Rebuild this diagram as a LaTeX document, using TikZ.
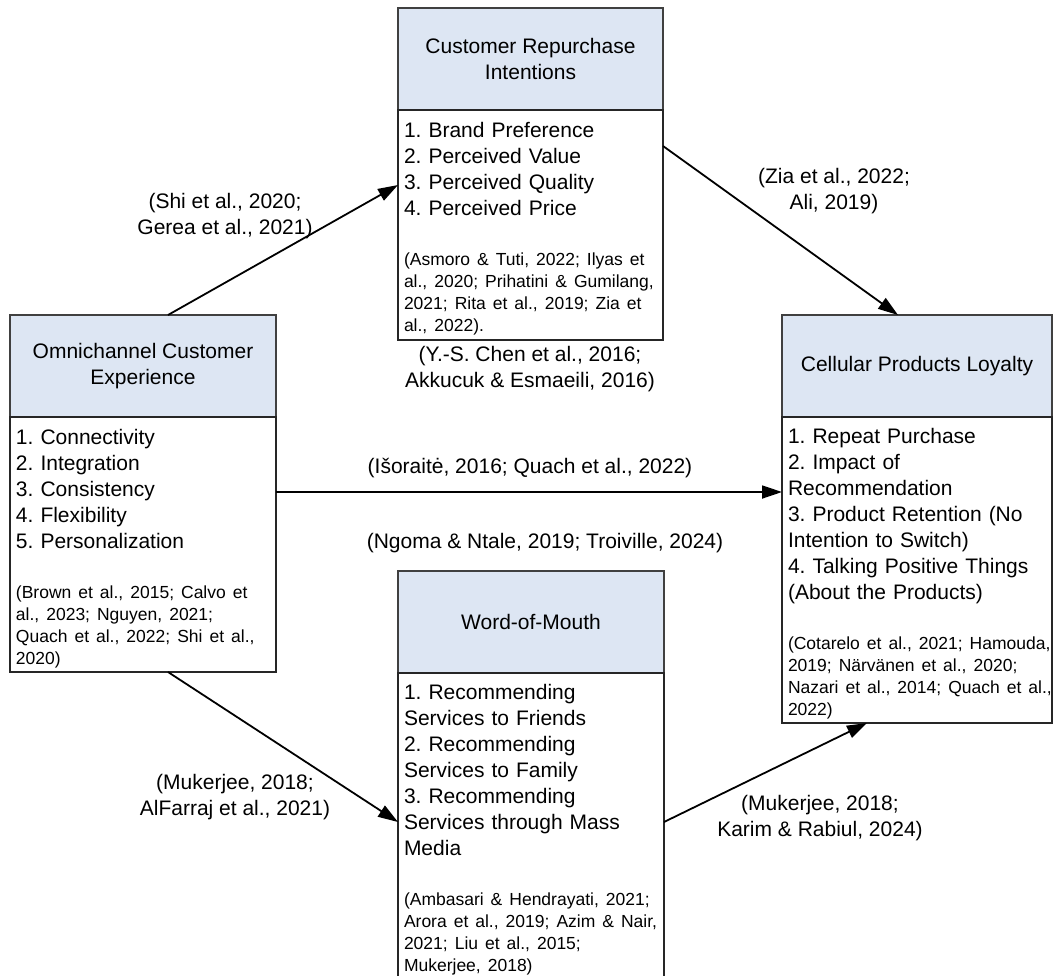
\documentclass[tikz,border=0pt]{standalone}
\usepackage{fontspec}
\setmainfont{Liberation Sans}
\usetikzlibrary{positioning,arrows.meta}
\definecolor{headblue}{RGB}{221,230,243}
\newcommand{\reflist}[1]{\par\vspace{28pt}\noindent{\fontsize{17.5}{22}\selectfont\begin{tabular}[t]{@{}l@{}}#1\end{tabular}\par}}
\frenchspacing

\begin{document}
\begin{tikzpicture}[x=1pt,y=-1pt,
	head/.style={draw=black!75,line width=1.2pt,fill=headblue,anchor=north west,outer sep=0pt,inner sep=0pt,minimum height=102pt,align=center,font=\fontsize{21}{26}\selectfont},
	body/.style={draw=black!85,line width=1.2pt,outer sep=0pt,inner xsep=6pt,inner ysep=0pt,align=left,font=\fontsize{21}{26}\selectfont\frenchspacing,execute at begin node=\rule{0pt}{26pt}},
	link/.style={line width=1.8pt,-{Triangle[length=20pt,width=13pt]}},
	cite/.style={align=center,inner sep=0pt,font=\fontsize{21}{26}\selectfont\frenchspacing}]
		\useasboundingbox (0,0) rectangle (1054,975);
		% the four boxes
		\node[head,minimum width=265pt] (reph) at (398,8) {Customer Repurchase\\Intentions};
		\node[body,text width=253pt,minimum height=230pt,below=0pt of reph] (repb) {1. Brand Preference\\2. Perceived Value\\3. Perceived Quality\\4. Perceived Price\reflist{(Asmoro \& Tuti, 2022; Ilyas et\\al., 2020; Prihatini \& Gumilang,\\2021; Rita et al., 2019; Zia et\\al., 2022).}};
		\node[head,minimum width=266pt] (omnih) at (10,315) {Omnichannel Customer\\Experience};
		\node[body,text width=254pt,minimum height=255pt,below=0pt of omnih] (omnib) {1. Connectivity\\2. Integration\\3. Consistency\\4. Flexibility\\5. Personalization\reflist{(Brown et al., 2015; Calvo et\\al., 2023; Nguyen, 2021;\\Quach et al., 2022; Shi et al.,\\2020)}};
		\node[head,minimum width=270pt] (loyh) at (782,315) {Cellular Products Loyalty};
		\node[body,text width=258pt,minimum height=306pt,below=0pt of loyh] (loyb) {1. Repeat Purchase\\2. Impact of\\Recommendation\\3. Product Retention (No\\Intention to Switch)\\4. Talking Positive Things\\(About the Products)\reflist{(Cotarelo et al., 2021; Hamouda,\\2019; Närvänen et al., 2020;\\Nazari et al., 2014; Quach et al.,\\2022)}};
		\node[head,minimum width=266pt] (womh) at (398,571) {Word-of-Mouth};
		\node[body,text width=254pt,minimum height=301pt,below=0pt of womh] (womb) {1. Recommending\\Services to Friends\\2. Recommending\\Services to Family\\3. Recommending\\Services through Mass\\Media\reflist{(Ambasari \& Hendrayati, 2021;\\Arora et al., 2019; Azim \& Nair,\\2021; Liu et al., 2015;\\Mukerjee, 2018)}};
		% arrows
		\draw[link] ([xshift=158pt]omnih.north west) -- ([yshift=-75pt]repb.north west);
		\draw[link] ([yshift=-36pt]repb.north east) -- ([xshift=116pt]loyh.north west);
		\draw[link] ([yshift=-75pt]omnib.north east) -- ([yshift=-75pt]loyb.north west);
		\draw[link] ([xshift=158pt]omnib.south west) -- ([yshift=-149pt]womb.north west);
		\draw[link] ([yshift=-149pt]womb.north east) -- ([xshift=85pt]loyb.south west);
		% sources on the arrows
		\node[cite] (shi) at (225,216) {(Shi et al., 2020;\\Gerea et al., 2021)};
		\node[cite] (zia) at (834,191) {(Zia et al., 2022;\\Ali, 2019)};
		\node[cite] (chen) at (530,369) {(Y.-S. Chen et al., 2016;\\Akkucuk \& Esmaeili, 2016)};
		\node[cite] (isor) at (530,468) {(Išoraitė, 2016; Quach et al., 2022)};
		\node[cite] (ngoma) at (545,543) {(Ngoma \& Ntale, 2019; Troiville, 2024)};
		\node[cite] (muka) at (235,797) {(Mukerjee, 2018;\\AlFarraj et al., 2021)};
		\node[cite] (mukb) at (820,818) {(Mukerjee, 2018;\\Karim \& Rabiul, 2024)};
\end{tikzpicture}
\end{document}
